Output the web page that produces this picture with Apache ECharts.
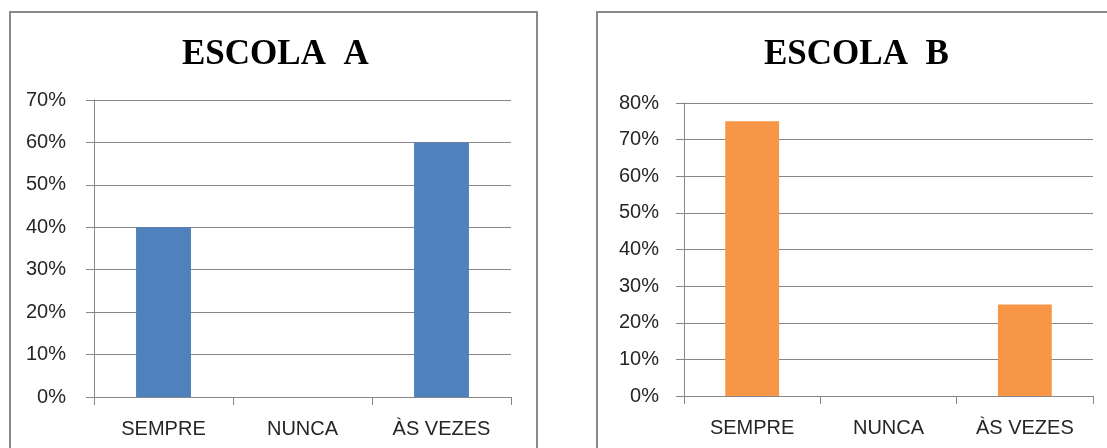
<!DOCTYPE html>
<html>
<head>
<meta charset="utf-8">
<title>ESCOLA A / ESCOLA B</title>
<script src="https://cdn.jsdelivr.net/npm/echarts@6/dist/echarts.min.js"></script>
<style>
  html, body { margin: 0; padding: 0; background: #ffffff; }
  #chart { width: 1107px; height: 448px; }
</style>
</head>
<body>
<div id="chart"></div>
<script>
// Response categories shared by both schools
const categories = ['SEMPRE', 'NUNCA', 'ÀS VEZES'];

// Percentages per school
const escolaA = [40, 0, 60];
const escolaB = [75, 0, 25];

// Value-axis ranges
const maxA = 70;
const maxB = 80;
const tickStep = 10;

const gray = '#868686';
const labelColor = '#262626';
const labelFont = 'Liberation Sans, Arial, sans-serif';

function xAxisFor(gridIndex) {
  return {
    type: 'category',
    gridIndex: gridIndex,
    data: categories,
    axisLine: { show: true, lineStyle: { color: gray, width: 1 } },
    axisTick: { show: true, length: 8, lineStyle: { color: gray } },
    axisLabel: { color: labelColor, fontSize: 20, fontFamily: labelFont, margin: 22 }
  };
}

function yAxisFor(gridIndex, max, margin) {
  return {
    type: 'value',
    gridIndex: gridIndex,
    min: 0,
    max: max,
    interval: tickStep,
    axisLine: { show: true, lineStyle: { color: gray, width: 1 } },
    axisTick: { show: true, length: 8, lineStyle: { color: gray } },
    axisLabel: { color: labelColor, fontSize: 20, fontFamily: labelFont, margin: margin, formatter: '{value}%' },
    splitLine: { show: true, lineStyle: { color: gray, width: 1 } }
  };
}

const chart = echarts.init(document.getElementById('chart'), null, { renderer: 'canvas' });

const titleStyle = { fontFamily: 'Liberation Serif, Times New Roman, serif', fontWeight: 'bold', fontSize: 35, color: '#000000' };

chart.setOption({
  backgroundColor: '#ffffff',
  animation: false,
  title: [
    { text: 'ESCOLA  A', left: 177, top: 32, textStyle: titleStyle },
    { text: 'ESCOLA  B', left: 759, top: 32, textStyle: titleStyle }
  ],
  grid: [
    { left: 94, top: 100, width: 417, height: 297, containLabel: false },
    { left: 684, top: 103, width: 409, height: 293, containLabel: false }
  ],
  xAxis: [xAxisFor(0), xAxisFor(1)],
  yAxis: [yAxisFor(0, maxA, 28), yAxisFor(1, maxB, 25)],
  series: [
    {
      type: 'bar', xAxisIndex: 0, yAxisIndex: 0,
      data: escolaA, barWidth: '39.5%',
      itemStyle: { color: '#4F81BD' }
    },
    {
      type: 'bar', xAxisIndex: 1, yAxisIndex: 1,
      data: escolaB, barWidth: '39.5%',
      itemStyle: { color: '#F79646' }
    }
  ],
  graphic: [
    {
      type: 'rect', silent: true,
      shape: { x: 10, y: 12, width: 527, height: 470 },
      style: { fill: null, stroke: '#8a8a8a', lineWidth: 2 }
    },
    {
      type: 'rect', silent: true,
      shape: { x: 597, y: 12, width: 540, height: 470 },
      style: { fill: null, stroke: '#8a8a8a', lineWidth: 2 }
    }
  ]
});
</script>
</body>
</html>
